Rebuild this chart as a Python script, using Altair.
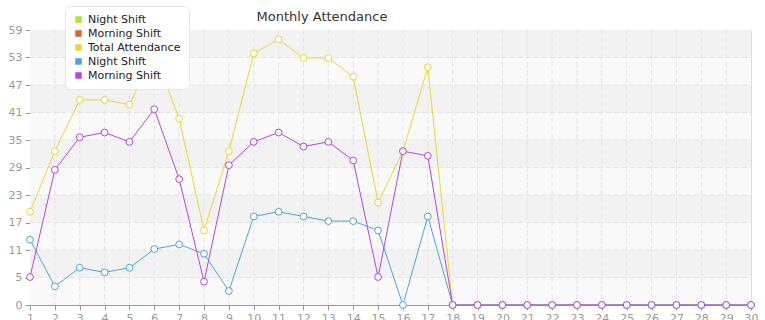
import altair as alt
import pandas as pd

days = list(range(1, 31))
total = [20, 33, 44, 44, 43, 54, 40, 16, 33, 54, 57, 53, 53, 49, 22, 33, 51] + [0] * 13
night = [14, 4, 8, 7, 8, 12, 13, 11, 3, 19, 20, 19, 18, 18, 16, 0, 19] + [0] * 13
morning = [6, 29, 36, 37, 35, 42, 27, 5, 30, 35, 37, 34, 35, 31, 6, 33, 32] + [0] * 13

legend_names = ["Night Shift", "Morning Shift", "Total Attendance", "Night Shift ", "Morning Shift "]
line_colors = ["#b8e02e", "#e0622a", "#e6d92e", "#4aa3e0", "#b445e0"]

y_ticks = [round(k * 5.9, 1) for k in range(11)]
band_lo = y_ticks[:-1]
band_hi = y_ticks[1:]
band_fill = ["#f9f9f9", "#f2f2f2"] * 5

rows = []
for name, vals in [("Total Attendance", total), ("Night Shift ", night), ("Morning Shift ", morning)]:
    for d, v in zip(days, vals):
        rows.append({"day": d, "value": v, "series": name})
df = pd.DataFrame(rows)

bands = pd.DataFrame({"lo": band_lo, "hi": band_hi, "fill": band_fill})
ygrid = pd.DataFrame({"v": y_ticks[1:-1]})
xgrid = pd.DataFrame({"d": days[1:-1]})

W, H = 721, 275
xscale = alt.Scale(domain=[1, 30], nice=False, zero=False)
yscale = alt.Scale(domain=[0, 59], nice=False)
cscale = alt.Scale(domain=legend_names, range=line_colors)

axis_x = alt.Axis(values=days, tickCount=60, format="d", grid=False, labelOverlap=False,
                  domainColor="#999999", tickColor="#999999", tickSize=5,
                  labelColor="#999999", labelFontSize=11, labelFont="DejaVu Sans",
                  labelPadding=2, title=None, labelFlush=False)
axis_y = alt.Axis(values=y_ticks, tickCount=30, labelExpr="floor(datum.value)", grid=False,
                  labelOverlap=False,
                  domainColor="#999999", tickColor="#999999", tickSize=5,
                  labelColor="#999999", labelFontSize=11, labelFont="DejaVu Sans",
                  labelPadding=3, title=None)

band_layer = alt.Chart(bands).mark_rect().encode(
    y=alt.Y("lo:Q", scale=yscale, axis=axis_y),
    y2="hi:Q",
    x=alt.value(0),
    x2=alt.value(W),
    fill=alt.Fill("fill:N", scale=None, legend=None),
)

hgrid = alt.Chart(ygrid).mark_rule(color="#e3e3e3", strokeDash=[5, 3], strokeWidth=1).encode(
    y=alt.Y("v:Q", scale=yscale), x=alt.value(0), x2=alt.value(W))
vgrid = alt.Chart(xgrid).mark_rule(color="#e3e3e3", strokeDash=[5, 3], strokeWidth=1).encode(
    x=alt.X("d:Q", scale=xscale, axis=axis_x), y=alt.value(0), y2=alt.value(H))

# small filled squares under the point circles; they carry the colour legend
legend_layer = alt.Chart(df).mark_square(filled=True, size=9, opacity=1).encode(
    x=alt.X("day:Q", scale=xscale),
    y=alt.Y("value:Q", scale=yscale),
    color=alt.Color("series:N", scale=cscale, legend=alt.Legend(
        title=None, orient="none", legendX=35, legendY=-24,
        fillColor="white", strokeColor="#e6e6e6", cornerRadius=6, padding=8,
        symbolType="square", symbolSize=42, symbolStrokeWidth=0,
        labelFontSize=11, labelFont="DejaVu Sans",
        labelColor="#222222", rowPadding=2, labelOffset=4,
        values=legend_names)),
)

def series_layers(name):
    sub = alt.Chart(df).transform_filter(alt.datum.series == name)
    line = sub.mark_line(strokeWidth=1).encode(
        x=alt.X("day:Q", scale=xscale),
        y=alt.Y("value:Q", scale=yscale),
        stroke=alt.Stroke("series:N", scale=cscale, legend=None),
    )
    pts = sub.mark_point(filled=True, fill="white", fillOpacity=1, size=46, strokeWidth=1).encode(
        x=alt.X("day:Q", scale=xscale),
        y=alt.Y("value:Q", scale=yscale),
        stroke=alt.Stroke("series:N", scale=cscale, legend=None),
    )
    return [line, pts]

title = alt.Chart(pd.DataFrame({"t": ["Monthly Attendance"]})).mark_text(
    fontSize=13, font="DejaVu Sans", color="#333333", align="center", baseline="middle"
).encode(text="t:N", x=alt.value(292), y=alt.value(-13))

layers = [band_layer, hgrid, vgrid, legend_layer]
for n in ["Total Attendance", "Night Shift ", "Morning Shift "]:
    layers += series_layers(n)
layers += [title]

chart = alt.layer(*layers).resolve_scale(fill="independent").properties(
    width=W, height=H,
    autosize=alt.AutoSizeParams(type="none"),
    padding={"left": 30, "top": 30, "right": 14, "bottom": 15},
).configure_view(stroke="#dddddd", strokeWidth=1).configure(background="white")

chart.save("out.html", embed_options={"renderer": "svg", "actions": False})
